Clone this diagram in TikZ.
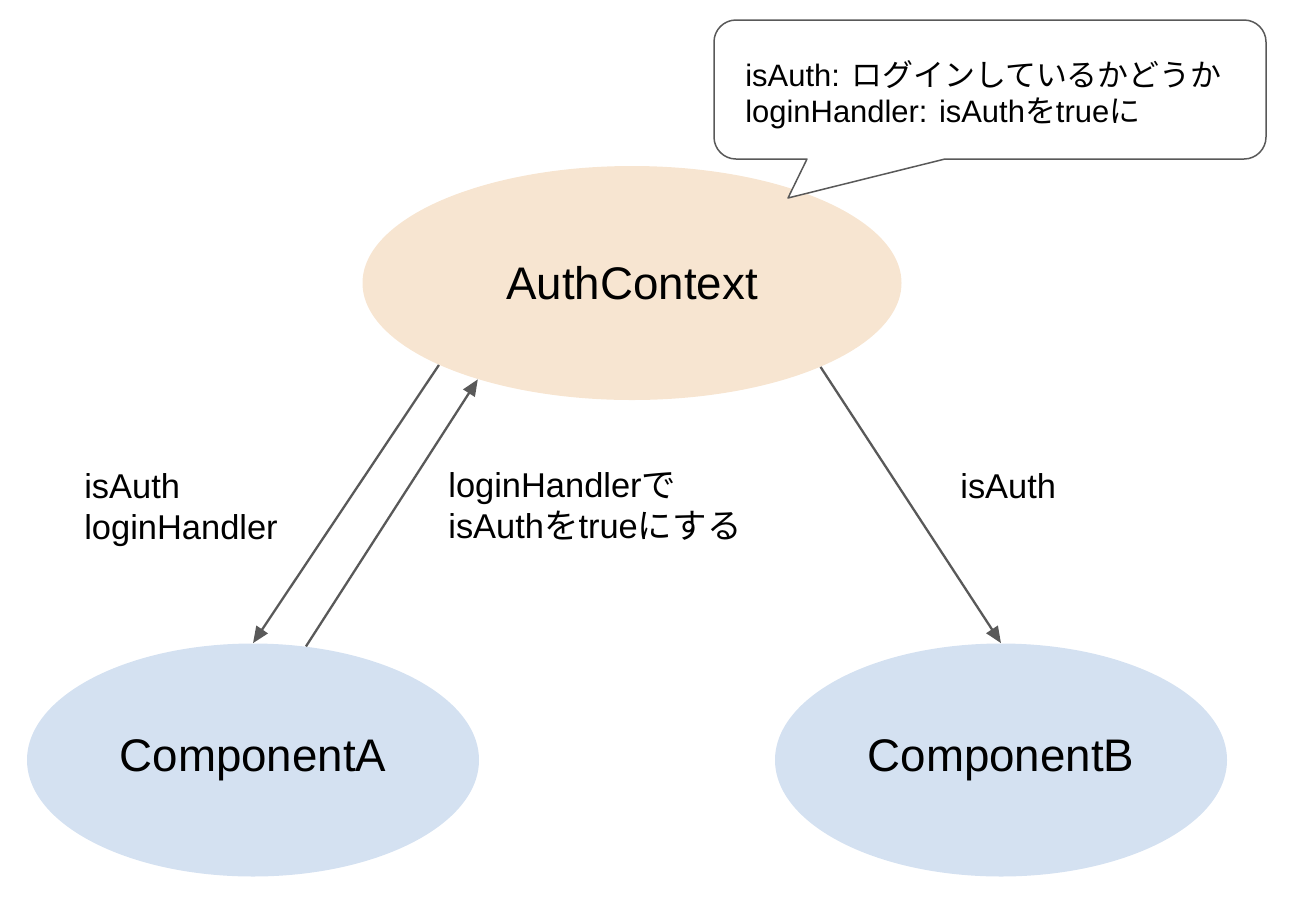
\documentclass[tikz,border=0pt]{standalone}
\usepackage{fontspec}
\setmainfont{Liberation Sans}
\newfontfamily\jp{Noto Sans CJK JP}
\usetikzlibrary{shapes.geometric,arrows.meta,positioning}

\definecolor{ctxfill}{HTML}{F7E5D1}
\definecolor{compfill}{HTML}{D4E1F1}
\definecolor{edgegray}{HTML}{595959}

\begin{document}
\begin{tikzpicture}[>={Triangle[length=0.33cm,width=0.27cm]}]
    \tikzstyle{ctx}=[ellipse, fill=ctxfill, minimum width=10.78cm, minimum height=4.68cm, inner sep=0pt, font=\fontsize{26}{31}\selectfont]
    \tikzstyle{comp}=[ellipse, fill=compfill, minimum width=9.04cm, minimum height=4.66cm, inner sep=0pt, font=\fontsize{26}{31}\selectfont]
    \tikzstyle{lbl}=[anchor=north west, inner sep=0pt, align=left, font=\fontsize{19.6}{23.2}\selectfont]
    \tikzstyle{flow}=[->, draw=edgegray, line width=0.046cm]
    \tikzstyle{bubble}=[draw=edgegray, fill=white, line width=0.03cm, line join=round]

    \useasboundingbox (0,0) rectangle (25.8,-18.12);

    \node[ctx] (auth) at (12.64,-5.66) {AuthContext};
    \node[comp, below of=auth, node distance=9.54cm, xshift=-7.58cm] (compA) {ComponentA};
    \node[comp, below of=auth, node distance=9.54cm, xshift=7.38cm] (compB) {ComponentB};

    \draw[flow] (auth.203.7) -- (compA.north);
    \draw[flow] (compA.65.6) -- (auth.212.5);
    \draw[flow] (auth.336.3) -- (compB.north);

    \node[lbl] (lblA) at (1.68,-9.46) {isAuth\\loginHandler};
    \node[lbl] (lblSet) at (8.96,-9.44) {loginHandler{\jp で}\\isAuth{\jp を}true{\jp にする}};
    \node[lbl] (lblB) at (19.2,-9.46) {isAuth};

    % speech bubble with the two props
    \coordinate (tip) at (15.76,-3.96);
    \draw[bubble] (16.14,-3.18) [rounded corners=0.44cm] -- (14.28,-3.18) -- (14.28,-0.4)
        -- (25.32,-0.4) -- (25.32,-3.18) [sharp corners] -- (18.9,-3.18) -- (tip) -- cycle;
    \node[lbl, font=\fontsize{17.6}{20.6}\selectfont] (memo) at (14.9,-1.2)
        {isAuth: {\jp ログインしているかどうか}\\loginHandler: isAuth{\jp を}true{\jp に}};
\end{tikzpicture}
\end{document}
